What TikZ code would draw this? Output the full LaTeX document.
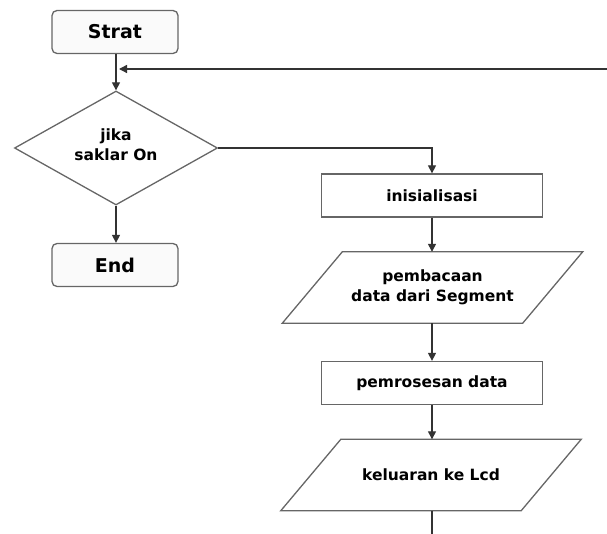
\documentclass[tikz,border=0pt]{standalone}
\usepackage{fontspec}
\setmainfont{DejaVu Sans}
\usetikzlibrary{shapes.geometric,arrows.meta}
\definecolor{edgegrey}{HTML}{666666}
\definecolor{linegrey}{HTML}{333333}
\definecolor{boxfill}{HTML}{FAFAFA}
\tikzset{
  txt/.style={font=\fontsize{15.5}{20}\selectfont\bfseries, align=center, text=black},
  term/.style={draw=edgegrey, line width=1.3pt, fill=boxfill, rounded corners=5pt, minimum width=126pt, minimum height=43pt, inner sep=0pt, font=\fontsize{19}{22}\selectfont\bfseries},
  proc/.style={draw=edgegrey, line width=1.3pt, minimum width=221pt, minimum height=43pt, inner sep=0pt, txt},
  dec/.style={draw=edgegrey, line width=1.3pt, diamond, minimum width=203pt, minimum height=114pt, inner sep=0pt, txt},
  iobody/.style={minimum width=240pt, minimum height=71pt, inner sep=0pt, txt},
  ioedge/.style={draw=edgegrey, line width=1.3pt},
  arr/.style={draw=linegrey, line width=1.3pt, -{Triangle[length=8pt,width=8pt]}},
  ln/.style={draw=linegrey, line width=1.3pt}
}
\begin{document}
\begin{tikzpicture}[x=1pt,y=-1pt]
\useasboundingbox (0,0) rectangle (607,534);
\node[term] (strat) at (115,32) {Strat};
\node[dec] (cond) at (116,148) {};
\node[txt] (condtxt) at (116,145) {jika\\saklar On};
\node[term] (end) at (115,265) {End};
\node[proc] (init) at (432,195.5) {inisialisasi};
\node[iobody] (read) at (432.5,287.5) {pembacaan\\data dari Segment};
\draw[ioedge] ([xshift=-30pt]read.south west) -- ([xshift=-30pt]read.south east) -- ([xshift=30pt]read.north east) -- ([xshift=30pt]read.north west) -- cycle;
\node[proc] (proc) at (432,383) {pemrosesan data};
\node[iobody] (out) at (431,475) {keluaran ke Lcd};
\draw[ioedge] ([xshift=-30pt]out.south west) -- ([xshift=-30pt]out.south east) -- ([xshift=30pt]out.north east) -- ([xshift=30pt]out.north west) -- cycle;
\coordinate (loopin) at (607,69);
\coordinate (loopend) at (119,69);
\coordinate (bottomend) at (432,534);
\draw[arr] (strat.south -| cond.north) -- (cond.north);
\draw[arr] (loopin) -- (loopend);
\draw[arr] (cond.south) -- (end.north -| cond.south);
\draw[arr] (cond.east) -| (init.north);
\draw[arr] (init.south) -- (init.south |- read.north);
\draw[arr] (read.south -| proc.north) -- (proc.north);
\draw[arr] (proc.south) -- (proc.south |- out.north);
\draw[ln] (out.south -| bottomend) -- (bottomend);
\end{tikzpicture}
\end{document}
